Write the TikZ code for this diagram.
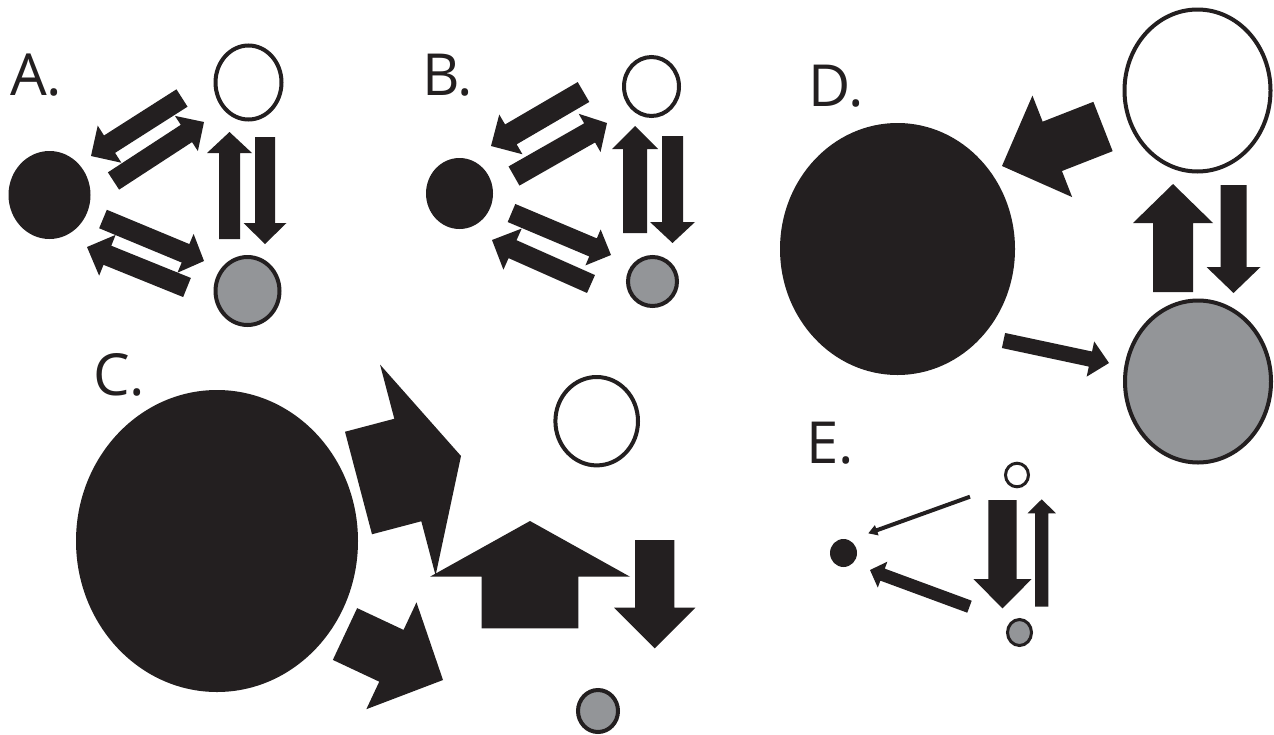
\documentclass[tikz,border=0pt]{standalone}
\usepackage{fontspec}
\setmainfont{Open Sans}
\usetikzlibrary{calc,shapes.geometric}
\definecolor{fg}{HTML}{231F20}
\definecolor{gr}{HTML}{939598}
\newcommand\barr[5]{%
  \coordinate (bt) at (#1); \coordinate (bh) at (#2);
  \coordinate (bn) at ($(bh)!#5!(bt)$);
  \fill[fg] ($(bt)!#3!90:(bh)$) -- ($(bn)!#3!-90:(bt)$) -- ($(bn)!#4!-90:(bt)$) -- (bh)
    -- ($(bn)!#4!90:(bt)$) -- ($(bn)!#3!90:(bt)$) -- ($(bt)!#3!-90:(bh)$) -- cycle;
}
\tikzset{
  lab/.style={anchor=base west, inner sep=0pt, font=\fontsize{58}{60}\selectfont, text=fg},
  blk/.style={ellipse, fill=fg, draw=none, inner sep=0pt},
  wht/.style={ellipse, fill=white, draw=fg, line width=#1, inner sep=0pt},
  wht/.default=4pt,
  gry/.style={ellipse, fill=gr, draw=fg, line width=#1, inner sep=0pt},
  gry/.default=4pt,
}
\begin{document}
\begin{tikzpicture}[x=1pt,y=-1pt]
\fill[white] (0,0) rectangle (1274,734);
\useasboundingbox (0,0) rectangle (1274,734);
% ---------- labels
\node[lab] (LA) at (10,95) {A.};
\node[lab] (LB) at (422,95) {B.};
\node[lab] (LC) at (93,395) {C.};
\node[lab] (LD) at (808,106) {D.};
\node[lab] (LE) at (806,463) {E.};
% ---------- panel A
\node[blk, minimum width=82pt, minimum height=88pt] (Ab) at (49.5,195) {};
\node[wht, minimum width=66pt, minimum height=74pt] (Aw) at (248.5,82.5) {};
\node[gry, minimum width=64pt, minimum height=68pt] (Ag) at (247.5,291) {};
\coordinate (a1t) at (182,98);    \coordinate (a1h) at (91,156);
\coordinate (a2t) at (113.5,181); \coordinate (a2h) at (204,122);
\coordinate (a3t) at (103,219);   \coordinate (a3h) at (204,261);
\coordinate (a4t) at (187,287.5); \coordinate (a4h) at (87,247);
\coordinate (a5t) at (229.5,239); \coordinate (a5h) at (229.5,132);
\coordinate (a6t) at (265,137);   \coordinate (a6h) at (265,244);
\barr{a1t}{a1h}{10.3pt}{22pt}{22pt}
\barr{a2t}{a2h}{10.3pt}{21pt}{21pt}
\barr{a3t}{a3h}{10pt}{21pt}{20pt}
\barr{a4t}{a4h}{10.3pt}{22pt}{22pt}
\barr{a5t}{a5h}{10.5pt}{22.5pt}{21pt}
\barr{a6t}{a6h}{10pt}{21.5pt}{21pt}
% ---------- panel B
\node[blk, minimum width=67pt, minimum height=71pt] (Bb) at (459.5,193.5) {};
\node[wht, minimum width=55pt, minimum height=59pt] (Bw) at (651.5,86.5) {};
\node[gry, minimum width=49pt, minimum height=49pt] (Bg) at (652.5,281.5) {};
\coordinate (b1t) at (583.5,92);  \coordinate (b1h) at (491,146);
\coordinate (b2t) at (514,176);   \coordinate (b2h) at (607,123);
\coordinate (b3t) at (511.5,213); \coordinate (b3h) at (611,255);
\coordinate (b4t) at (591,284);   \coordinate (b4h) at (492,240);
\coordinate (b5t) at (635,233);   \coordinate (b5h) at (635,126);
\coordinate (b6t) at (672.5,136); \coordinate (b6h) at (672.5,243);
\barr{b1t}{b1h}{11.5pt}{23pt}{23pt}
\barr{b2t}{b2h}{11pt}{22pt}{20pt}
\barr{b3t}{b3h}{9.8pt}{19.5pt}{19.5pt}
\barr{b4t}{b4h}{9.8pt}{22.5pt}{22.5pt}
\barr{b5t}{b5h}{12pt}{23pt}{23pt}
\barr{b6t}{b6h}{10.5pt}{22.5pt}{21pt}
% ---------- panel C
\node[blk, minimum width=282pt, minimum height=302pt] (Cb) at (217,541) {};
\node[wht, minimum width=82.6pt, minimum height=88.4pt] (Cw) at (596.7,421.2) {};
\node[gry, minimum width=40pt, minimum height=42pt] (Cg) at (598,711) {};
\coordinate (c1t) at (358.5,483); \coordinate (c1h) at (461,456);
\coordinate (c2t) at (345,634);   \coordinate (c2h) at (443,680);
\coordinate (c3t) at (530,628.3); \coordinate (c3h) at (530,521);
\coordinate (c4t) at (654.7,540); \coordinate (c4h) at (654.7,648.3);
\barr{c1t}{c1h}{53pt}{109pt}{55pt}
\barr{c2t}{c2h}{28.6pt}{59pt}{57pt}
\barr{c3t}{c3h}{48.3pt}{100pt}{55.7pt}
\barr{c4t}{c4h}{19.7pt}{40.7pt}{40.6pt}
% ---------- panel D
\node[blk, minimum width=235pt, minimum height=252pt] (Db) at (897.5,249) {};
\node[wht, minimum width=146pt, minimum height=162pt] (Dw) at (1197.5,90.5) {};
\node[gry, minimum width=146pt, minimum height=162pt] (Dg) at (1198,381.5) {};
\coordinate (d1t) at (1103,126.5);  \coordinate (d1h) at (1002,166);
\coordinate (d2t) at (1173,292);    \coordinate (d2h) at (1173,184);
\coordinate (d3t) at (1233.5,185);  \coordinate (d3h) at (1233.5,293);
\coordinate (d4t) at (1003.5,340.5);\coordinate (d4h) at (1109,363);
\barr{d1t}{d1h}{26.5pt}{54.5pt}{54pt}
\barr{d2t}{d2h}{20pt}{40pt}{39pt}
\barr{d3t}{d3h}{13pt}{27pt}{26pt}
\barr{d4t}{d4h}{7.7pt}{18pt}{19pt}
% ---------- panel E
\node[blk, minimum width=27pt, minimum height=28pt] (Eb) at (843.5,553) {};
\node[wht=3pt, minimum width=23pt, minimum height=23.6pt] (Ew) at (1017,475) {};
\node[gry=3pt, minimum width=24pt, minimum height=26pt] (Eg) at (1019.5,632.5) {};
\coordinate (e1t) at (970,496.7);   \coordinate (e1h) at (868.3,533.3);
\coordinate (e2t) at (969.5,606.7); \coordinate (e2h) at (870,570);
\coordinate (e3t) at (1002.5,500);  \coordinate (e3h) at (1002.5,608.3);
\coordinate (e4t) at (1041.7,606.7);\coordinate (e4h) at (1041.7,499.3);
\barr{e1t}{e1h}{2pt}{5.5pt}{9pt}
\barr{e2t}{e2h}{6.4pt}{13.8pt}{13.4pt}
\barr{e3t}{e3h}{14.2pt}{29.2pt}{29.3pt}
\barr{e4t}{e4h}{6.7pt}{14.2pt}{14pt}
\end{tikzpicture}
\end{document}
